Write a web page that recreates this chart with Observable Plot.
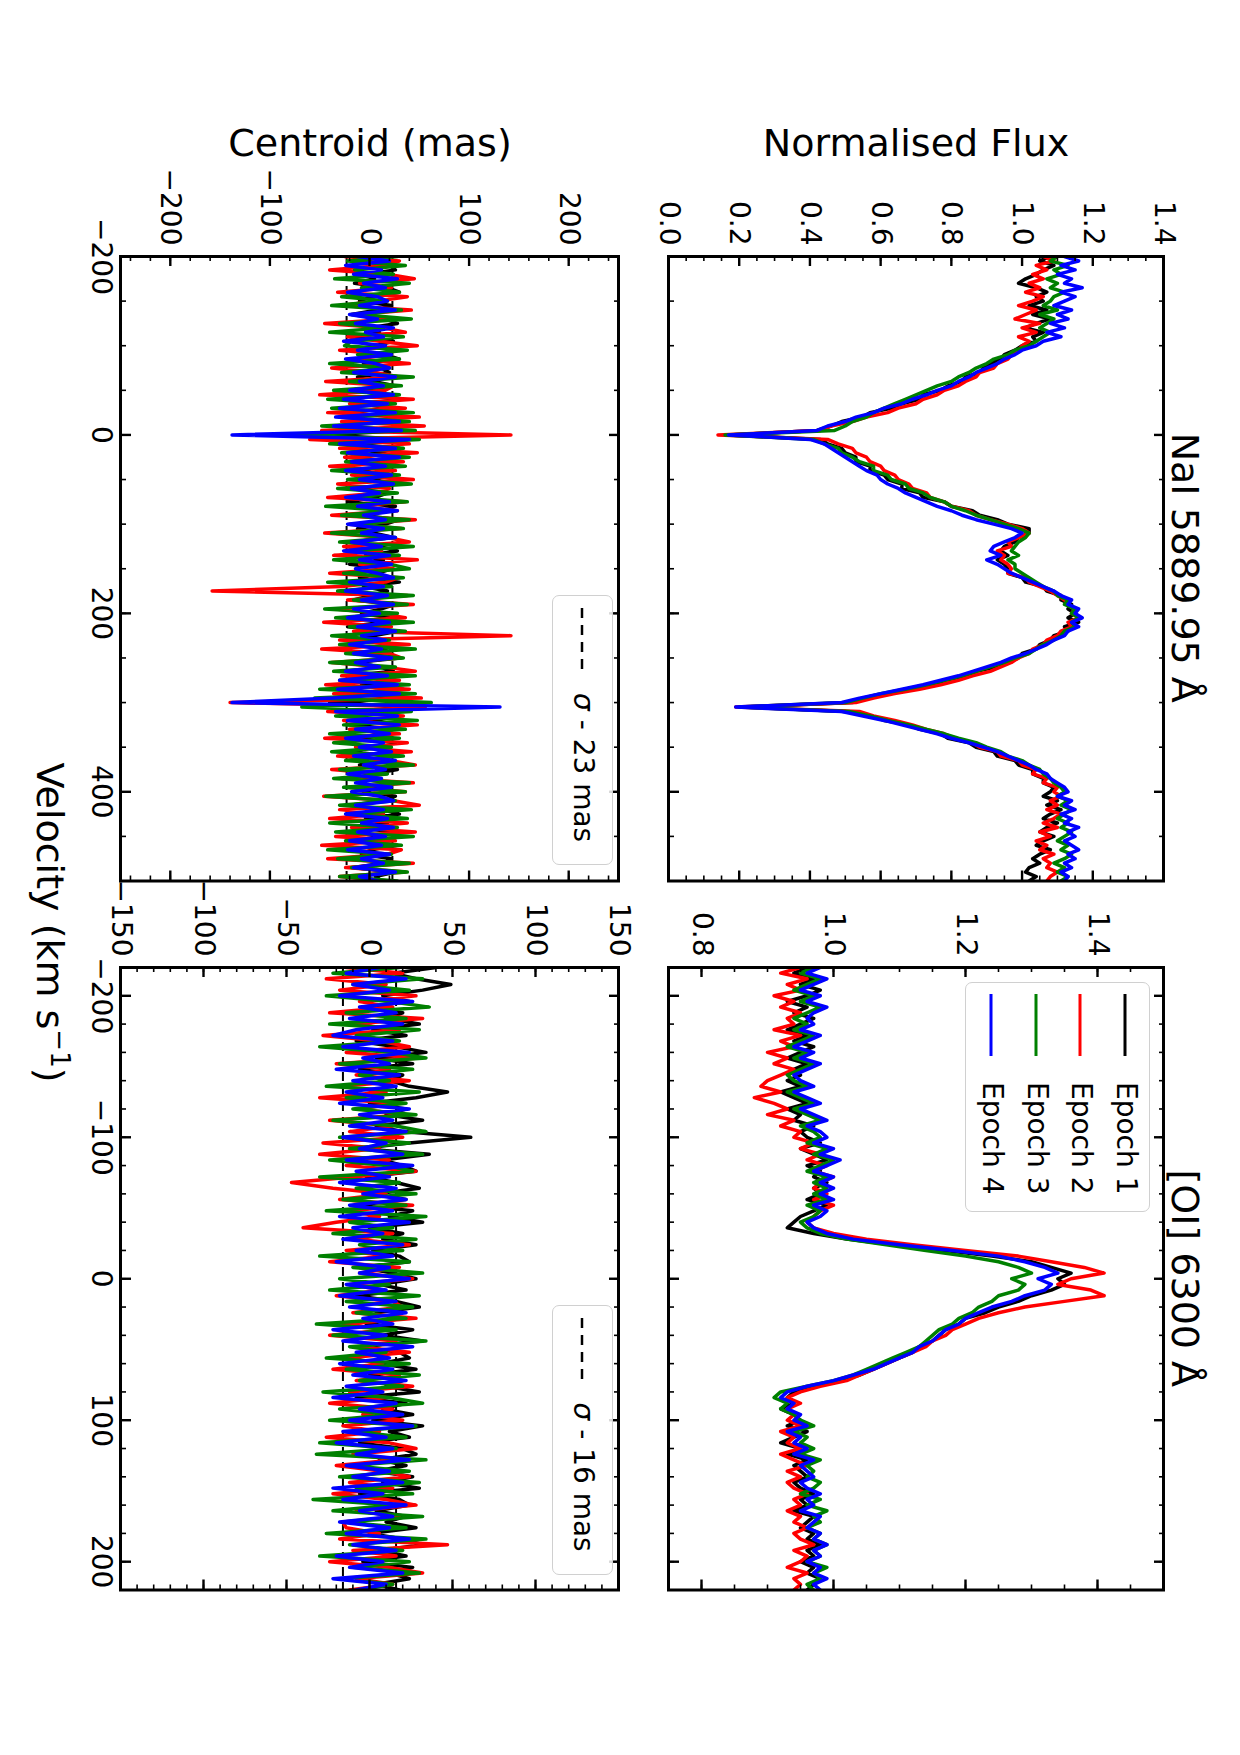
<!DOCTYPE html>
<html><head><meta charset="utf-8">
<script src="https://cdn.jsdelivr.net/npm/d3@7"></script>
<script src="https://cdn.jsdelivr.net/npm/@observablehq/plot@0.6"></script>
<style>
body{margin:0;background:#fff;}
#page{position:relative;width:1240px;height:1755px;overflow:hidden;background:#fff;}
#fig{position:absolute;left:0;top:0;width:1755px;height:1240px;transform-origin:0 0;transform:translate(1240px,0) rotate(90deg);font-family:"DejaVu Sans",sans-serif;color:#000;}
.abs{position:absolute;white-space:nowrap;}
.lab{font-size:38px;line-height:38px;}
.leg{position:absolute;border:1.5px solid #d0d0d0;border-radius:7px;background:rgba(255,255,255,0.85);box-sizing:border-box;}
.legtxt{position:absolute;font-size:28px;line-height:28px;white-space:nowrap;}
</style></head>
<body><div id="page"><div id="fig"></div></div>
<script>
// ---------------- DATA ----------------
const epochs = ["Epoch 1", "Epoch 2", "Epoch 3", "Epoch 4"];
const epochColors = ["black", "red", "green", "blue"];

// NaI 5889.95: velocity grid -200..500 km/s, 5 km/s steps
const naiVel = d3.range(-200, 501, 5);
const naiFlux1 = [1.08,1.05,1.09,1.06,1.04,1.01,0.99,1.04,1.07,1.04, 1.06,1.02,1.07,1.03,1.08,1.04,1.01,1.06,1.03,1.04, 1.00,0.98,0.95,0.94,0.91,0.89,0.88,0.84,0.83,0.79, 0.77,0.72,0.71,0.66,0.63,0.57,0.55,0.49,0.46,0.42, 0.17,0.43,0.45,0.49,0.50,0.53,0.53,0.57,0.57,0.61, 0.62,0.66,0.66,0.71,0.72,0.78,0.80,0.86,0.88,0.93, 0.96,1.02,1.02,0.99,0.98,0.95,0.94,0.96,0.93,0.95, 0.96,0.96,1.00,1.01,1.06,1.07,1.11,1.11,1.14,1.13, 1.15,1.13,1.16,1.12,1.13,1.09,1.08,1.05,1.04,1.00, 0.99,0.95,0.93,0.87,0.85,0.78,0.75,0.67,0.62,0.55, 0.52,0.21,0.50,0.57,0.61,0.68,0.71,0.77,0.79,0.85, 0.87,0.92,0.93,0.98,0.99,1.03,1.03,1.06,1.06,1.09, 1.08,1.06,1.10,1.07,1.11,1.08,1.06,1.10,1.07,1.05, 1.09,1.06,1.04,1.08,1.05,1.03,1.05,1.02,1.01,1.04, 1.02];
const naiFlux2 = [1.06,1.09,1.04,1.07,1.03,1.06,1.02,1.05,1.01,1.06, 1.03,0.99,1.04,1.01,0.98,1.05,1.00,1.04,0.99,1.02, 1.00,0.99,0.97,0.96,0.93,0.92,0.88,0.87,0.84,0.82, 0.78,0.76,0.72,0.70,0.65,0.62,0.56,0.52,0.46,0.43, 0.14,0.45,0.48,0.52,0.53,0.56,0.57,0.60,0.61,0.64, 0.65,0.68,0.69,0.73,0.74,0.78,0.80,0.85,0.87,0.91, 0.96,1.00,1.02,0.99,0.96,0.97,0.93,0.95,0.94,0.96, 0.97,0.96,1.01,1.02,1.05,1.08,1.10,1.12,1.13,1.15, 1.14,1.16,1.13,1.14,1.11,1.10,1.07,1.06,1.03,1.02, 0.99,0.97,0.94,0.91,0.86,0.82,0.77,0.71,0.64,0.58, 0.53,0.19,0.54,0.58,0.64,0.69,0.73,0.78,0.81,0.86, 0.88,0.93,0.94,0.99,1.00,1.04,1.03,1.07,1.06,1.10, 1.09,1.11,1.08,1.10,1.07,1.11,1.09,1.06,1.10,1.05, 1.08,1.04,1.07,1.05,1.09,1.06,1.08,1.07,1.10,1.08, 1.07];
const naiFlux3 = [1.10,1.08,1.13,1.09,1.11,1.07,1.10,1.08,1.12,1.09, 1.08,1.06,1.10,1.05,1.09,1.07,1.05,1.08,1.06,1.04, 1.02,0.98,0.96,0.92,0.90,0.87,0.85,0.82,0.80,0.76, 0.73,0.70,0.67,0.64,0.61,0.58,0.56,0.52,0.50,0.47, 0.16,0.41,0.44,0.48,0.49,0.52,0.54,0.58,0.58,0.62, 0.63,0.67,0.68,0.72,0.74,0.78,0.80,0.84,0.87,0.91, 0.95,0.99,1.02,1.01,0.99,0.98,0.97,0.99,0.96,0.98, 0.98,1.00,1.02,1.04,1.06,1.09,1.10,1.13,1.12,1.15, 1.14,1.16,1.14,1.15,1.12,1.11,1.09,1.06,1.04,1.02, 0.98,0.95,0.91,0.87,0.83,0.78,0.73,0.67,0.60,0.55, 0.50,0.20,0.51,0.57,0.62,0.68,0.73,0.78,0.82,0.87, 0.90,0.94,0.96,1.00,1.02,1.05,1.06,1.08,1.09,1.11, 1.12,1.10,1.13,1.11,1.14,1.12,1.10,1.13,1.11,1.14, 1.12,1.10,1.13,1.11,1.14,1.12,1.09,1.12,1.10,1.13, 1.11];
const naiFlux4 = [1.12,1.16,1.11,1.15,1.10,1.14,1.12,1.17,1.11,1.15, 1.12,1.09,1.14,1.10,1.13,1.08,1.12,1.07,1.11,1.06, 1.04,1.00,0.98,0.95,0.93,0.90,0.87,0.85,0.82,0.80, 0.76,0.73,0.69,0.66,0.61,0.58,0.53,0.50,0.45,0.42, 0.17,0.40,0.44,0.46,0.48,0.50,0.52,0.54,0.56,0.59, 0.60,0.62,0.65,0.67,0.70,0.73,0.76,0.80,0.83,0.87, 0.92,0.97,1.00,0.98,0.95,0.92,0.91,0.94,0.90,0.93, 0.95,0.97,1.00,1.03,1.06,1.09,1.11,1.14,1.13,1.16, 1.15,1.17,1.14,1.16,1.13,1.12,1.09,1.07,1.04,1.01, 0.97,0.94,0.90,0.86,0.82,0.77,0.72,0.66,0.60,0.54, 0.49,0.19,0.49,0.55,0.61,0.66,0.71,0.76,0.80,0.85, 0.89,0.93,0.96,0.99,1.02,1.04,1.07,1.08,1.10,1.12, 1.13,1.10,1.14,1.12,1.15,1.11,1.14,1.12,1.16,1.13, 1.15,1.12,1.14,1.16,1.13,1.15,1.12,1.14,1.11,1.13, 1.12];

const naiCen1 = [12,-8,20,26,-4,5,-15,18,30,2, -10,22,8,-18,15,28,-2,10,-14,24, 6,-20,16,30,-6,12,20,-12,4,26, -16,14,32,-8,22,-24,28,10,-30,34, -45,38,-20,30,8,-18,24,14,-10,20, 2,28,-14,18,6,-22,26,12,-8,30, 16,-12,4,24,-18,10,28,-4,14,-20, 22,8,-10,30,-6,18,2,-16,26,12, -8,20,14,-22,28,4,-12,22,16,-6, 30,-14,10,24,-20,26,-8,34,-26,38, -40,44,-22,28,6,-16,24,10,-12,26, 4,-18,20,14,-10,28,2,-14,22,8, -6,26,16,-20,12,30,-4,18,-12,24, 10,-16,28,2,-8,22,14,-18,26,6, 12];
const naiCen2 = [-25,30,12,-40,18,45,-10,22,-32,38, 8,-28,42,-15,26,-45,14,36,-22,10, 48,-30,20,-12,40,-38,6,30,-44,24, 16,-50,44,-20,36,-42,50,-28,55,-48, 142,-60,40,-30,48,-25,34,-40,26,-18, 44,-32,20,10,-42,36,-14,28,-38,46, -20,32,-45,18,40,-26,12,-36,48,-10, 24,-40,30,16,-28,-158,38,-22,44,-34, 10,36,-46,22,-16,142,-30,40,-48,20, 32,-38,14,46,-28,30,-44,40,-36,52, -140,56,-42,34,-26,48,-20,30,-45,38, -14,42,-32,20,46,-38,16,-28,44,-22, 36,-46,24,50,-30,14,-40,38,-18,46, -34,26,-48,32,18,-42,44,-24,36,-30, 20];
const naiCen3 = [28,-22,36,-15,24,-35,40,-8,30,-28, 18,-38,32,-10,42,-30,14,-40,34,-18, -25,38,-12,30,-40,20,-28,44,-20,32, -36,30,-42,26,-38,44,-30,40,-48,46, -90,50,-40,34,-28,40,-24,36,-38,30, -22,42,-32,28,-18,38,-44,22,-28,40, -16,34,-38,26,-30,44,-20,30,-36,20, 40,-26,34,-42,22,-32,44,-16,38,-45, 28,-34,44,-20,36,-38,20,-30,46,-24, 34,-40,26,-36,46,-30,40,-50,46,-55, 62,-68,42,-34,48,-26,36,-40,30,-36, 22,-38,34,-24,44,-30,18,-36,40,-26, 36,-44,26,-30,42,-20,38,-40,28,-34, 44,-24,32,-42,22,-32,40,-18,38,-30, 28];
const naiCen4 = [-12,20,-24,12,-16,28,-6,16,-22,8, 18,-10,26,-20,8,-14,24,-4,14,-26, 16,-12,22,-24,6,20,-16,26,-10,14, -20,24,-26,18,-30,26,-34,30,-36,32, -138,40,-30,26,-22,30,-18,16,-24,22, -10,24,-18,10,-24,20,-12,28,-6,16, -22,14,-8,26,-18,12,-26,20,-10,22, -14,8,24,-20,14,-24,18,-8,24,-16, 10,-22,20,-12,26,-8,16,-20,12,-16, 22,-14,10,-24,18,-30,28,-32,30,-36, -138,131,-34,28,-22,30,-14,20,-24,14, -10,22,-16,26,-6,16,-22,12,-14,22, -18,10,24,-14,14,-24,18,-8,24,-12, 16,-20,12,-22,20,-8,14,-16,26,-10, 8];
const naiSigma = 23;

// [OI] 6300: velocity grid -220..220 km/s, 4 km/s steps
const oiVel = d3.range(-220, 221, 4);
const oiFlux1 = [0.96,0.94,0.97,0.95,0.98,0.96,0.93,0.96,0.94,0.97, 0.95,0.93,0.96,0.94,0.97,0.95,0.93,0.96,0.94,0.95, 0.93,0.95,0.92,0.94,0.96,0.93,0.95,0.94,0.97,0.95, 0.96,0.98,0.95,0.97,0.99,0.96,0.98,0.97,0.99,0.97, 0.98,0.96,0.99,0.97,0.95,0.94,0.93,0.97,1.02,1.09, 1.17,1.24,1.30,1.33,1.36,1.34,1.35,1.33,1.30,1.28, 1.25,1.23,1.20,1.19,1.17,1.16,1.15,1.13,1.12,1.10, 1.08,1.06,1.04,1.01,0.97,0.94,0.93,0.94,0.92,0.94, 0.95,0.93,0.96,0.94,0.92,0.95,0.93,0.96,0.94,0.95, 0.96,0.94,0.95,0.97,0.95,0.96,0.94,0.97,0.96,0.95, 0.97,0.96,0.98,0.96,0.97,0.95,0.97,0.96,0.98,0.97,0.96];
const oiFlux2 = [0.95,0.92,0.96,0.93,0.95,0.91,0.94,0.92,0.95,0.93, 0.94,0.91,0.95,0.92,0.94,0.90,0.93,0.91,0.94,0.92, 0.90,0.89,0.92,0.88,0.91,0.93,0.90,0.94,0.92,0.95, 0.94,0.97,0.95,0.98,0.96,0.99,0.97,1.00,0.98,0.97, 0.99,0.97,1.00,0.98,0.97,0.96,0.97,1.00,1.05,1.12, 1.20,1.28,1.33,1.38,1.41,1.36,1.34,1.39,1.41,1.35, 1.29,1.25,1.22,1.20,1.18,1.17,1.15,1.14,1.12,1.10, 1.08,1.06,1.04,1.02,0.98,0.95,0.93,0.95,0.93,0.94, 0.93,0.95,0.92,0.94,0.93,0.95,0.92,0.94,0.96,0.93, 0.95,0.93,0.94,0.96,0.94,0.95,0.93,0.95,0.94,0.96, 0.94,0.95,0.97,0.94,0.96,0.95,0.93,0.96,0.94,0.95,0.94];
const oiFlux3 = [0.97,0.95,0.98,0.96,0.94,0.97,0.95,0.98,0.96,0.94, 0.96,0.94,0.97,0.95,0.93,0.96,0.94,0.97,0.95,0.93, 0.94,0.96,0.93,0.95,0.97,0.94,0.96,0.98,0.95,0.97, 0.98,0.96,0.99,0.97,1.00,0.98,0.96,0.99,0.97,0.99, 0.97,0.99,0.96,0.98,0.97,0.95,0.96,0.98,1.02,1.08, 1.14,1.20,1.25,1.28,1.30,1.27,1.29,1.28,1.25,1.24, 1.22,1.21,1.19,1.18,1.16,1.15,1.14,1.13,1.11,1.09, 1.07,1.05,1.03,1.00,0.96,0.92,0.91,0.93,0.92,0.94, 0.95,0.97,0.94,0.96,0.95,0.97,0.95,0.98,0.96,0.97, 0.96,0.98,0.97,0.95,0.98,0.96,0.99,0.97,0.98,0.96, 0.98,0.97,0.99,0.97,0.98,0.96,0.99,0.97,0.98,0.96,0.97];
const oiFlux4 = [0.98,0.96,0.99,0.97,0.95,0.98,0.96,0.99,0.97,0.96, 0.97,0.95,0.98,0.96,0.94,0.97,0.95,0.98,0.96,0.94, 0.95,0.97,0.94,0.96,0.98,0.95,0.97,0.99,0.96,0.98, 0.99,0.97,1.00,0.98,1.01,0.99,0.97,1.00,0.98,1.00, 0.98,1.00,0.97,0.99,0.98,0.96,0.97,0.99,1.03,1.10, 1.18,1.25,1.29,1.32,1.34,1.31,1.33,1.32,1.29,1.27, 1.24,1.22,1.20,1.19,1.17,1.16,1.15,1.13,1.12,1.10, 1.08,1.06,1.03,1.00,0.96,0.93,0.92,0.94,0.93,0.95, 0.94,0.96,0.93,0.95,0.94,0.96,0.94,0.97,0.95,0.96, 0.97,0.95,0.96,0.98,0.96,0.97,0.95,0.98,0.97,0.96, 0.98,0.97,0.99,0.97,0.98,0.96,0.98,0.97,0.99,0.97,0.98];

const oiCen1 = [40,14,28,49,32,8,24,-4,20,10, 30,2,22,-8,16,34,4,26,-6,20, 12,24,47,28,0,22,10,32,4,20, 61,24,-6,36,8,20,28,-2,16,30, 4,22,-8,26,12,32,0,20,8,28, 2,18,24,-6,14,28,6,22,-8,16, 30,4,20,-2,26,8,32,-6,18,24, 6,28,0,20,10,30,-8,22,8,26, 2,32,12,24,-6,20,28,6,22,4, 26,8,30,-6,18,24,4,22,10,28, 0,20,32,6,22,-4,26,12,24,4,18];
const oiCen2 = [-14,20,-26,10,-18,28,-6,14,-24,32, -10,18,-28,6,24,-14,30,-20,12,-8, 24,-18,10,-30,16,-6,22,-24,14,-12, 20,-28,6,-30,12,-14,28,-10,-47,-22, 10,-18,26,-12,6,-20,-40,14,-8,24, -14,10,-24,18,-6,26,-12,8,-20,14, 20,-10,28,-16,12,-24,16,-6,24,-14, 8,-22,18,-8,26,-12,10,-24,14,-4, 20,-16,6,-26,12,28,-10,16,-20,8, 24,-12,14,-22,10,28,-8,18,-16,-14, 6,-18,47,-10,16,-24,12,32,-8,14,-12];
const oiCen3 = [18,-22,32,-10,24,-26,12,36,-14,22, -24,30,-8,18,-30,14,34,-18,26,-6, 12,-26,30,-14,22,-10,28,-22,16,34, -18,24,-12,32,-24,10,26,-30,18,-8, 28,-16,22,-26,34,-12,14,-22,28,-6, 20,-30,24,-10,32,-18,12,-24,30,-14, 26,-8,22,-32,16,-22,34,-12,10,-26, 24,-14,30,-6,20,-28,12,32,-18,14, -24,28,-10,22,-30,16,-32,34,-12,24, -18,30,-8,26,-34,14,-22,32,-16,22, -26,34,-12,20,-30,24,-10,30,-18,14,-6];
const oiCen4 = [6,-14,22,-10,12,-18,26,-6,16,-12, 20,-8,-22,14,-16,24,-4,12,-20,18, -10,16,-14,8,-18,24,-6,14,-12,22, -16,10,-6,20,-14,26,-8,12,-18,16, -4,22,-12,14,-18,24,-10,8,-16,20, -8,14,-20,12,-6,24,-14,10,-18,16, -12,22,-4,14,-22,10,-16,26,-8,12, -18,14,-10,22,-14,8,-22,16,-6,20, -12,26,-16,10,-20,14,-8,24,-14,12, -10,20,-22,8,-16,22,-6,14,-18,12, -14,24,-10,16,-20,8,-12,20,-22,10,-8];
const oiSigma = 16;

// tick values
const naiVelMajor = [-200, 0, 200, 400];
const oiVelMajor = [-200, -100, 0, 100, 200];
const naiFluxMajor = [0, 0.2, 0.4, 0.6, 0.8, 1.0, 1.2, 1.4];
const oiFluxMajor = [0.8, 1.0, 1.2, 1.4];
const naiCenMajor = [-200, -100, 0, 100, 200];
const oiCenMajor = [-150, -100, -50, 0, 50, 100, 150];

// ---------------- DRAWING ----------------
const fig = document.getElementById("fig");
const FONT = "'DejaVu Sans', sans-serif";

function toSeries(vel, arrs) {
  return arrs.map((a, k) => a.map((y, i) => ({v: vel[i], y, epoch: epochs[k]})));
}

function tickRules(vals, dim, len, sw, W, H) {
  if (dim === "x") return [
    Plot.ruleX(vals, {x: d => d, insetTop: H - len, stroke: "black", strokeWidth: sw}),
    Plot.ruleX(vals, {x: d => d, insetBottom: H - len, stroke: "black", strokeWidth: sw})
  ];
  return [
    Plot.ruleY(vals, {y: d => d, insetRight: W - len, stroke: "black", strokeWidth: sw}),
    Plot.ruleY(vals, {y: d => d, insetLeft: W - len, stroke: "black", strokeWidth: sw})
  ];
}

function panel(o) {
  const mL = 100, mR = 12, mT = 12, mB = o.xLabels ? 60 : 12;
  const W = o.u1 - o.u0, H = o.v1 - o.v0;
  const marks = [];
  if (o.sigma) marks.push(Plot.ruleY([-o.sigma, o.sigma], {stroke: "black", strokeWidth: 2, strokeDasharray: "9,6"}));
  o.series.forEach((s, k) => marks.push(Plot.line(s, {x: "v", y: "y", stroke: epochColors[k], strokeWidth: 3.5, clip: true})));
  marks.push(...tickRules(o.xMinor, "x", 5, 1.6, W, H));
  marks.push(...tickRules(o.xMajor, "x", 10, 2.4, W, H));
  marks.push(...tickRules(o.yMinor, "y", 5, 1.6, W, H));
  marks.push(...tickRules(o.yMajor, "y", 10, 2.4, W, H));
  marks.push(Plot.frame({stroke: "black", strokeWidth: 3}));
  marks.push(Plot.axisY(o.yMajor, {tickSize: 0, tickPadding: 11, tickFormat: o.yFormat, label: null, fontSize: 28}));
  if (o.xLabels) marks.push(Plot.axisX(o.xLabels, {tickSize: 0, tickPadding: 9, tickFormat: d3.format("d"), label: null, fontSize: 28}));
  const svg = Plot.plot({
    width: W + mL + mR, height: H + mT + mB,
    marginLeft: mL, marginRight: mR, marginTop: mT, marginBottom: mB,
    x: {domain: o.xDomain, axis: o.xLabels ? undefined : null},
    y: {domain: o.yDomain},
    style: {fontFamily: FONT, fontSize: "28px", background: "transparent", overflow: "visible", color: "black", maxWidth: "none"},
    marks
  });
  svg.style.position = "absolute";
  svg.style.left = (o.u0 - mL) + "px";
  svg.style.top = (o.v0 - mT) + "px";
  fig.appendChild(svg);
}

const U_NAI = [255.5, 880], U_OI = [967, 1589.5];
const V_FLUX = [76, 571], V_CEN = [621, 1119];

panel({u0: U_NAI[0], u1: U_NAI[1], v0: V_FLUX[0], v1: V_FLUX[1],
  xDomain: [-200, 500], yDomain: [0, 1.4],
  series: toSeries(naiVel, [naiFlux1, naiFlux2, naiFlux3, naiFlux4]),
  xMajor: naiVelMajor, xMinor: d3.range(-200, 501, 50),
  yMajor: naiFluxMajor, yMinor: d3.range(0, 1.41, 0.05), yFormat: d3.format(".1f")});

panel({u0: U_OI[0], u1: U_OI[1], v0: V_FLUX[0], v1: V_FLUX[1],
  xDomain: [-220, 220], yDomain: [0.75, 1.5],
  series: toSeries(oiVel, [oiFlux1, oiFlux2, oiFlux3, oiFlux4]),
  xMajor: oiVelMajor, xMinor: d3.range(-220, 221, 20),
  yMajor: oiFluxMajor, yMinor: d3.range(0.75, 1.51, 0.05), yFormat: d3.format(".1f")});

panel({u0: U_NAI[0], u1: U_NAI[1], v0: V_CEN[0], v1: V_CEN[1],
  xDomain: [-200, 500], yDomain: [-250, 250],
  series: toSeries(naiVel, [naiCen1, naiCen2, naiCen3, naiCen4]), sigma: naiSigma,
  xMajor: naiVelMajor, xMinor: d3.range(-200, 501, 50), xLabels: naiVelMajor,
  yMajor: naiCenMajor, yMinor: d3.range(-240, 241, 20), yFormat: d3.format("d")});

panel({u0: U_OI[0], u1: U_OI[1], v0: V_CEN[0], v1: V_CEN[1],
  xDomain: [-220, 220], yDomain: [-150, 150],
  series: toSeries(oiVel, [oiCen1, oiCen2, oiCen3, oiCen4]), sigma: oiSigma,
  xMajor: oiVelMajor, xMinor: d3.range(-220, 221, 20), xLabels: oiVelMajor,
  yMajor: oiCenMajor, yMinor: d3.range(-150, 151, 10), yFormat: d3.format("d")});

// ---------------- TEXT ----------------
function addText(html, cx, cy, cls, rot) {
  const d = document.createElement("div");
  d.className = "abs " + cls;
  d.innerHTML = html;
  d.style.left = cx + "px";
  d.style.top = cy + "px";
  d.style.transform = "translate(-50%,-50%)" + (rot ? " rotate(" + rot + "deg)" : "");
  fig.appendChild(d);
}
addText("NaI 5889.95 Å", (U_NAI[0] + U_NAI[1]) / 2, 55, "lab");
addText("[OI] 6300 Å", (U_OI[0] + U_OI[1]) / 2, 55, "lab");
addText("Normalised Flux", 143, (V_FLUX[0] + V_FLUX[1]) / 2, "lab", -90);
addText("Centroid (mas)", 143, (V_CEN[0] + V_CEN[1]) / 2, "lab", -90);
addText("Velocity (km s<sup style='font-size:26px;line-height:0'>−1</sup>)", (U_NAI[0] + U_OI[1]) / 2, 1190, "lab");

// epoch legend in [OI] flux panel
(function () {
  const box = document.createElement("div");
  box.className = "leg";
  Object.assign(box.style, {left: "982px", top: "90px", width: "230px", height: "185px"});
  epochs.forEach((name, k) => {
    const y = 24 + k * 44.5;
    const sw = document.createElementNS("http://www.w3.org/2000/svg", "svg");
    sw.setAttribute("width", 64); sw.setAttribute("height", 8);
    Object.assign(sw.style, {position: "absolute", left: "10px", top: (y - 4) + "px"});
    sw.innerHTML = `<line x1="1" y1="4" x2="63" y2="4" stroke="${epochColors[k]}" stroke-width="3"/>`;
    box.appendChild(sw);
    const t = document.createElement("div");
    t.className = "legtxt";
    t.textContent = name;
    Object.assign(t.style, {left: "99px", top: (y - 15) + "px"});
    box.appendChild(t);
  });
  fig.appendChild(box);
})();

// sigma legends in centroid panels
function sigmaLegend(uEnd, sigma) {
  const box = document.createElement("div");
  box.className = "leg";
  Object.assign(box.style, {left: (uEnd - 15 - 270) + "px", top: "627px", width: "270px", height: "61px"});
  const sw = document.createElementNS("http://www.w3.org/2000/svg", "svg");
  sw.setAttribute("width", 64); sw.setAttribute("height", 8);
  Object.assign(sw.style, {position: "absolute", left: "11px", top: "26px"});
  sw.innerHTML = `<line x1="1" y1="4" x2="63" y2="4" stroke="black" stroke-width="2.5" stroke-dasharray="10,7"/>`;
  box.appendChild(sw);
  const t = document.createElement("div");
  t.className = "legtxt";
  t.innerHTML = "<i>σ</i> - " + sigma + " mas";
  Object.assign(t.style, {left: "97px", top: "15px"});
  box.appendChild(t);
  fig.appendChild(box);
}
sigmaLegend(U_NAI[1], naiSigma);
sigmaLegend(U_OI[1], oiSigma);
</script>
</body></html>
